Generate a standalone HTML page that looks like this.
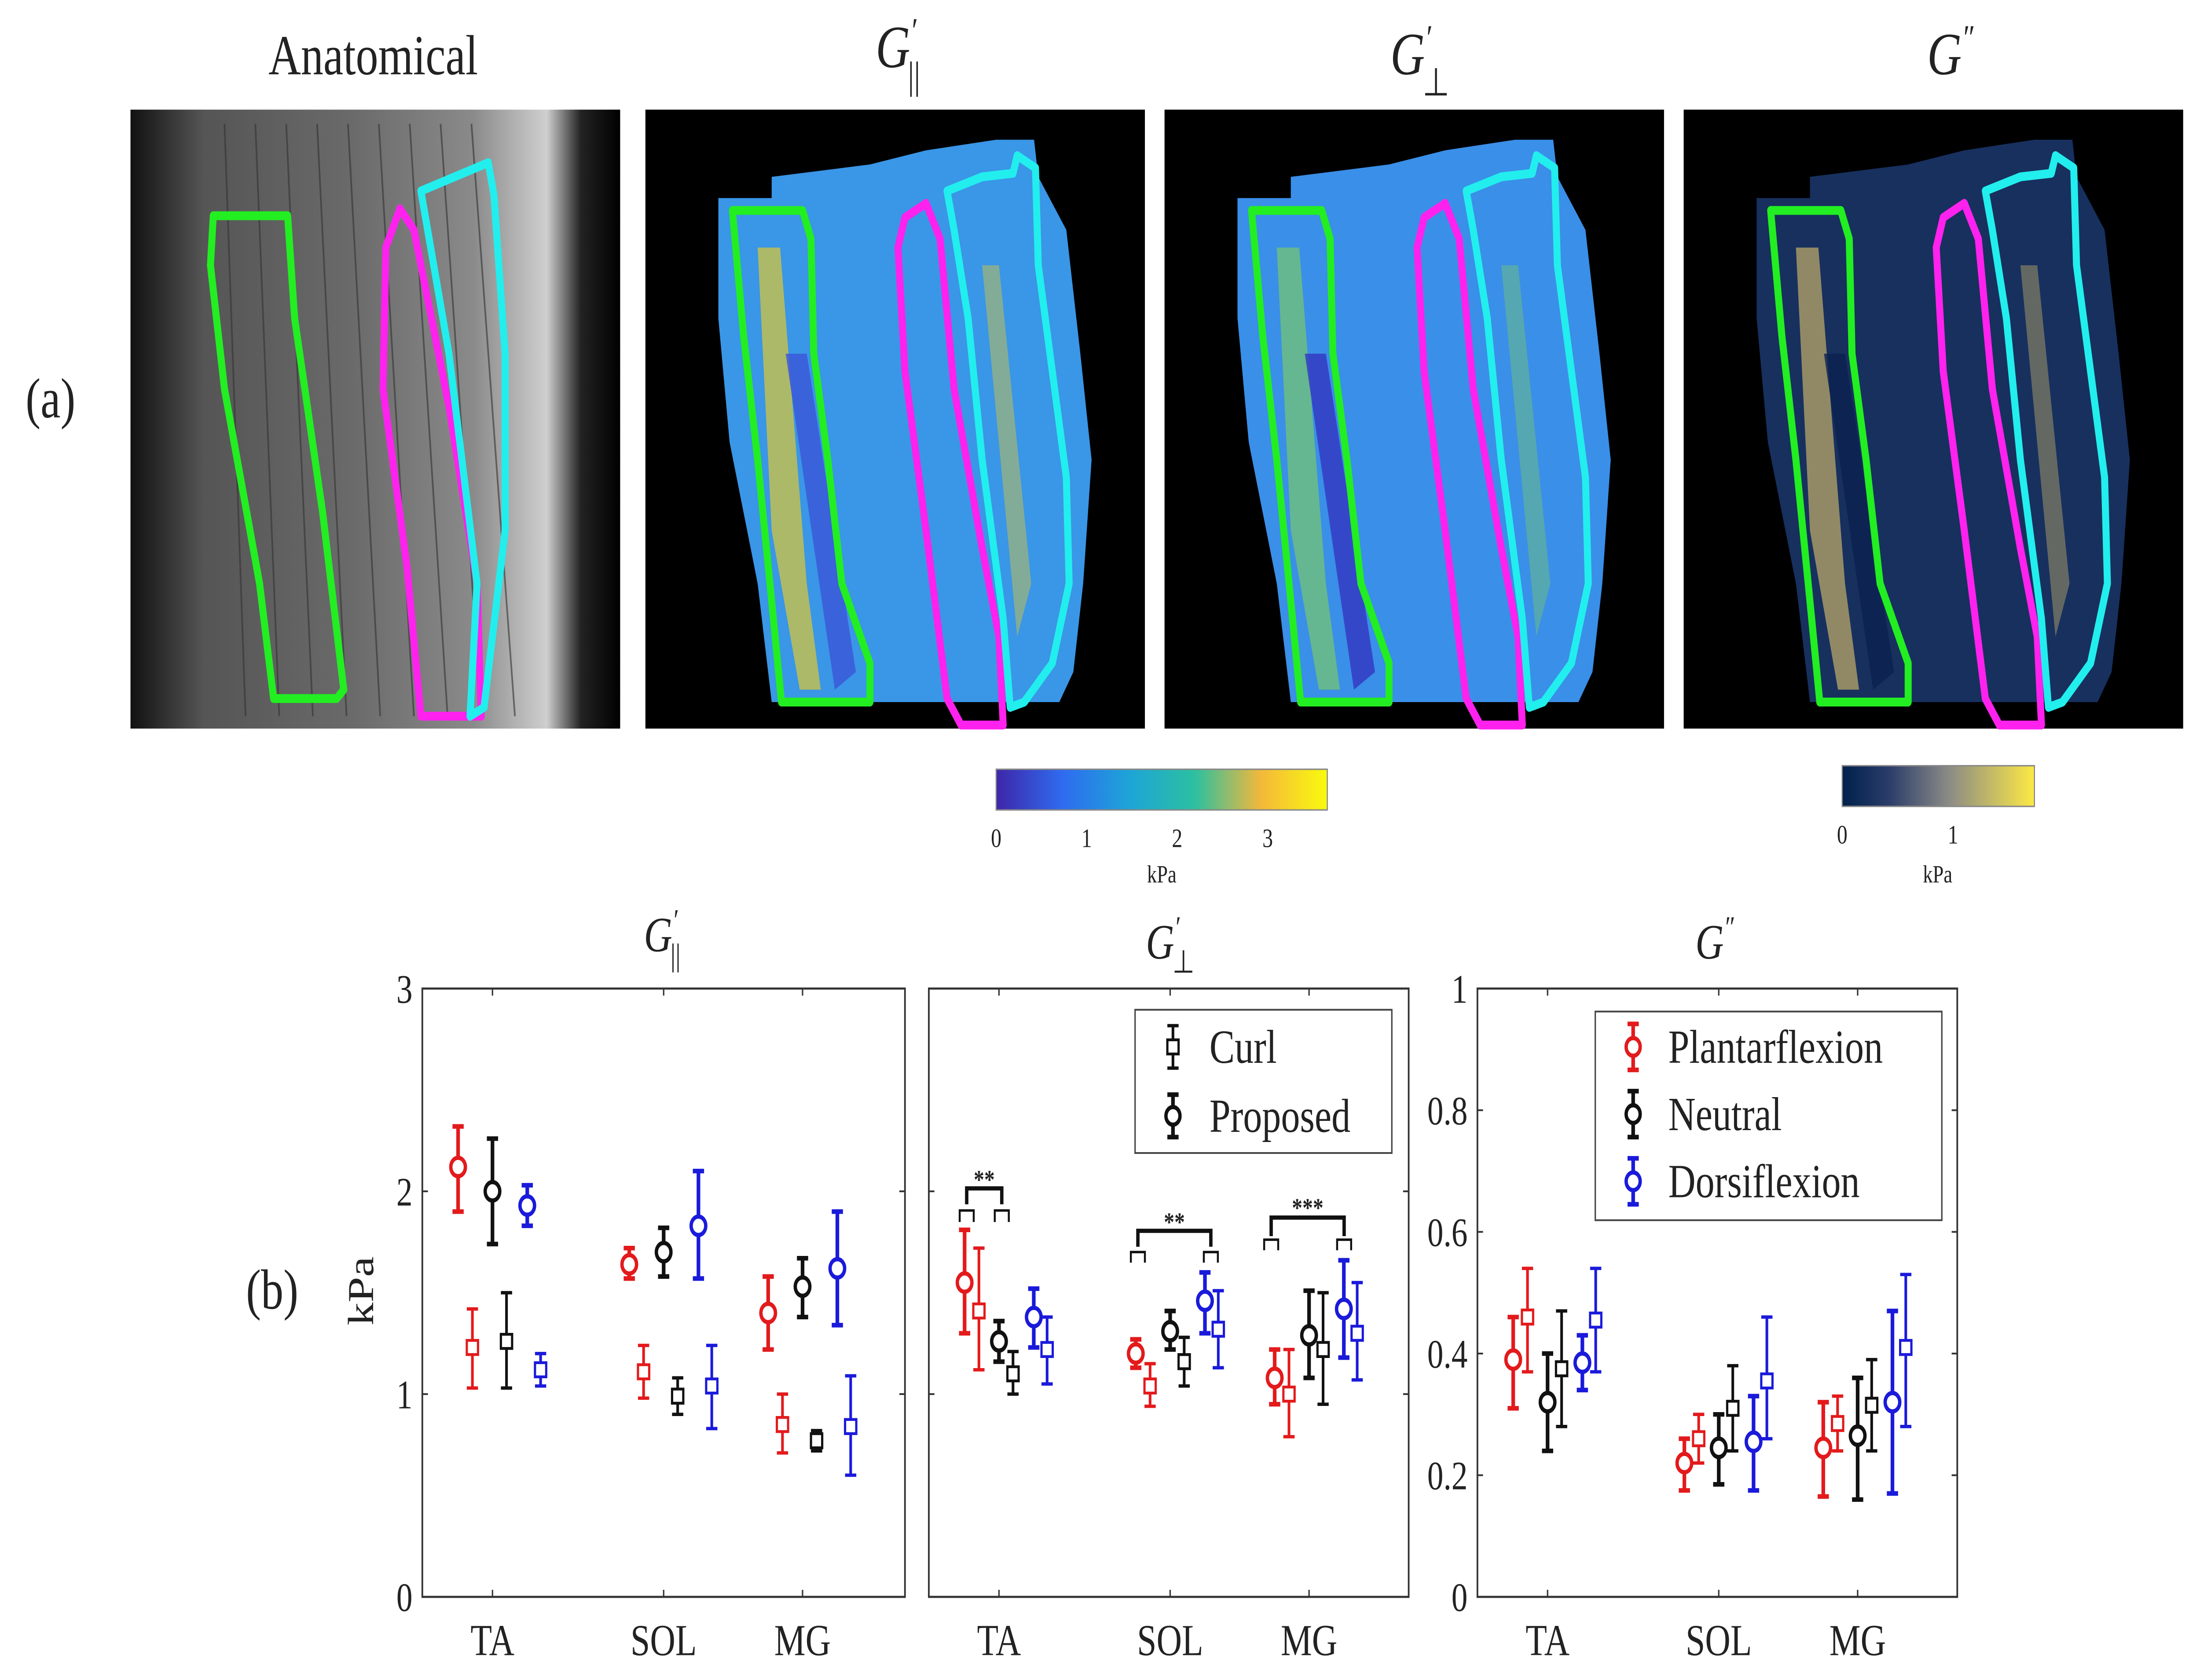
<!DOCTYPE html>
<html><head><meta charset="utf-8"><style>
html,body{margin:0;padding:0;background:#fff;overflow:hidden;width:100%;height:100%;}
svg{display:block;width:100vw;height:100vh;}
text{font-family:"Liberation Serif",serif;fill:#222;}
</style></head><body>
<svg id="fig" xmlns="http://www.w3.org/2000/svg" viewBox="0 0 1568 950" preserveAspectRatio="none">
<defs>
<linearGradient id="anat" x1="0" x2="1" y1="0" y2="0">
<stop offset="0" stop-color="#111"/><stop offset="0.15" stop-color="#555"/><stop offset="0.45" stop-color="#6a6a6a"/><stop offset="0.7" stop-color="#8a8a8a"/><stop offset="0.85" stop-color="#cfcfcf"/><stop offset="0.92" stop-color="#222"/><stop offset="1" stop-color="#000"/>
</linearGradient>
<linearGradient id="parula" x1="0" x2="1"><stop offset="0" stop-color="#3e26a8"/><stop offset="0.2" stop-color="#2f6bf0"/><stop offset="0.4" stop-color="#1da4d8"/><stop offset="0.6" stop-color="#2cc0a0"/><stop offset="0.8" stop-color="#f4b83a"/><stop offset="1" stop-color="#f9fb0e"/></linearGradient>
<linearGradient id="cividis" x1="0" x2="1"><stop offset="0" stop-color="#00204d"/><stop offset="0.25" stop-color="#2c3e6a"/><stop offset="0.55" stop-color="#8a8a86"/><stop offset="1" stop-color="#fde945"/></linearGradient>
</defs>
<g id="topgroup"></g>
<g id="bottom"></g>
</svg>
<script>
// ---------- chart data ----------
const categories = ['TA','SOL','MG'];
const seriesNames = ['Plantarflexion','Neutral','Dorsiflexion'];
const p1CircleVal = [[2.12,1.64,1.40],[2.00,1.70,1.53],[1.93,1.83,1.62]];
const p1CircleLo  = [[1.90,1.57,1.22],[1.74,1.58,1.38],[1.83,1.57,1.34]];
const p1CircleHi  = [[2.32,1.72,1.58],[2.26,1.82,1.67],[2.03,2.10,1.90]];
const p1SquareVal = [[1.23,1.11,0.85],[1.26,0.99,0.77],[1.12,1.04,0.84]];
const p1SquareLo  = [[1.03,0.98,0.71],[1.03,0.90,0.72],[1.04,0.83,0.60]];
const p1SquareHi  = [[1.42,1.24,1.00],[1.50,1.08,0.82],[1.20,1.24,1.09]];
const p2CircleVal = [[1.55,1.20,1.08],[1.26,1.31,1.29],[1.38,1.46,1.42]];
const p2CircleLo  = [[1.30,1.13,0.95],[1.16,1.22,1.08],[1.23,1.30,1.18]];
const p2CircleHi  = [[1.81,1.27,1.22],[1.36,1.41,1.51],[1.52,1.60,1.66]];
const p2SquareVal = [[1.41,1.04,1.00],[1.10,1.16,1.22],[1.22,1.32,1.30]];
const p2SquareLo  = [[1.12,0.94,0.79],[1.00,1.04,0.95],[1.05,1.13,1.07]];
const p2SquareHi  = [[1.72,1.15,1.22],[1.21,1.28,1.50],[1.38,1.51,1.55]];
const p3CircleVal = [[0.39,0.22,0.245],[0.32,0.245,0.265],[0.385,0.255,0.32]];
const p3CircleLo  = [[0.31,0.175,0.165],[0.24,0.185,0.16],[0.34,0.175,0.17]];
const p3CircleHi  = [[0.46,0.26,0.32],[0.40,0.30,0.36],[0.43,0.33,0.47]];
const p3SquareVal = [[0.46,0.26,0.285],[0.375,0.31,0.315],[0.455,0.355,0.41]];
const p3SquareLo  = [[0.37,0.22,0.24],[0.28,0.24,0.24],[0.37,0.26,0.28]];
const p3SquareHi  = [[0.54,0.30,0.33],[0.47,0.38,0.39],[0.54,0.46,0.53]];
const p1Ticks = [0,1,2,3];
const p3Ticks = [0,0.2,0.4,0.6,0.8,1];
const p3TickLabels = ['0','0.2','0.4','0.6','0.8','1'];

const NS='http://www.w3.org/2000/svg';
function mk(tag, attrs, parent, txt){
  const e=document.createElementNS(NS,tag);
  for(const k in attrs) e.setAttribute(k,attrs[k]);
  if(txt!==undefined) e.textContent=txt;
  parent.appendChild(e); return e;
}
const colors=['#e31a1c','#111111','#1a1adb'];

// ---------- top row images ----------
const gTop=document.getElementById('topgroup');
function title(x,y,main,sub,sup){
  const t=mk('text',{x:x,y:y,'font-size':34,'font-style':'italic','text-anchor':'middle'},gTop);
  
  
  mk('tspan',{},t,main);
  if(sup){mk('tspan',{'font-size':20,dy:-14},t,sup);}
  if(sub){mk('tspan',{'font-size':22,dy:sup?26:10,dx:sup?-6:0,'font-style':'normal'},t,sub);}
}
const tA=mk('text',{x:266,y:42,'font-size':32,'text-anchor':'middle'},gTop,'Anatomical');


title(640,38,'G','||','′');
title(1012,42,'G','⊥','′');
title(1390,42,'G','','″');
const lab=mk('text',{x:36,y:236,'font-size':32,'text-anchor':'middle'},gTop,'(a)');



const an=mk('rect',{x:93,y:62,width:349,height:350,fill:'url(#anat)'},gTop);


for(let i=0;i<9;i++){mk('line',{x1:160+i*22,y1:70,x2:175+i*24,y2:405,stroke:'#333','stroke-width':1.2,opacity:0.6},gTop);}
function poly(pts,dx,attrs,name){
  const p=mk('polygon',Object.assign({points:pts.map(q=>(q[0]+dx)+','+q[1]).join(' ')},attrs),gTop);
  
  
  return p;
}
const ol={fill:'none','stroke-width':5,'stroke-linejoin':'round'};
poly([[152,122],[205,122],[210,180],[230,290],[245,390],[240,395],[195,395],[185,330],[160,220],[150,150]],0,Object.assign({stroke:'#22ee22'},ol),'ta-roi');
poly([[285,118],[295,130],[320,230],[340,330],[343,405],[300,405],[290,320],[273,220],[275,140]],0,Object.assign({stroke:'#ff22ee'},ol),'sol-roi');
poly([[300,108],[348,92],[352,110],[360,200],[360,300],[345,400],[335,405],[340,330],[320,200]],0,Object.assign({stroke:'#22eeee'},ol),'mg-roi');

const blob=[[52,112],[90,112],[90,100],[160,93],[200,85],[250,79],[277,79],[280,100],[300,130],[310,200],[318,260],[312,330],[305,380],[295,397],[90,397],[80,330],[60,250],[52,180]];
const green=[[522,119],[572,119],[578,135],[580,200],[590,260],[600,330],[620,375],[620,397],[557,397],[550,340],[540,260],[530,190]];
const mag=[[645,123],[660,115],[670,135],[680,220],[700,310],[712,360],[715,410],[685,410],[675,395],[660,300],[645,210],[640,140]];
const cyan=[[675,108],[700,100],[722,98],[725,88],[738,95],[740,150],[750,210],[760,270],[762,330],[750,375],[730,397],[720,400],[715,350],[700,260],[690,180],[680,130]];
const panels=[{x:460,fill:'#3a96e6',stripe:'#c9c24a',dark:'#3b55d8'},{x:830,fill:'#3a8fe8',stripe:'#6fc07a',dark:'#3434c0'},{x:1200,fill:'#17305e',stripe:'#b0a068',dark:'#0b2250'}];
panels.forEach((pn)=>{
  const r=mk('rect',{x:pn.x,y:62,width:356,height:350,fill:'#000'},gTop);
  
  
  poly(blob,pn.x,{fill:pn.fill},'map-region');
  poly([[540,140],[556,140],[575,330],[585,390],[570,390],[550,300]],pn.x-460,{fill:pn.stripe,opacity:0.8},'map-stripe');
  poly([[560,200],[575,200],[610,380],[595,390]],pn.x-460,{fill:pn.dark,opacity:0.8},'map-stripe');
  poly([[700,150],[712,150],[735,330],[725,360]],pn.x-460,{fill:pn.stripe,opacity:0.5},'map-stripe');
  poly(green,pn.x-460,Object.assign({stroke:'#22ee22'},ol),'ta-roi');
  poly(mag,pn.x-460,Object.assign({stroke:'#ff22ee'},ol),'sol-roi');
  poly(cyan,pn.x-460,Object.assign({stroke:'#22eeee'},ol),'mg-roi');
});
const cb1=mk('rect',{x:710,y:435,width:236,height:23,fill:'url(#parula)',stroke:'#888','stroke-width':0.8},gTop);


['0','1','2','3'].forEach((t,i)=>{mk('text',{x:710+i*64.5,y:479,'font-size':15,'text-anchor':'middle'},gTop,t);});
mk('text',{x:828,y:499,'font-size':14,'text-anchor':'middle'},gTop,'kPa');
const cb2=mk('rect',{x:1313,y:433,width:137,height:23,fill:'url(#cividis)',stroke:'#888','stroke-width':0.8},gTop);


mk('text',{x:1313,y:477,'font-size':15,'text-anchor':'middle'},gTop,'0');
mk('text',{x:1392,y:477,'font-size':15,'text-anchor':'middle'},gTop,'1');
mk('text',{x:1381,y:499,'font-size':14,'text-anchor':'middle'},gTop,'kPa');

// ---------- bottom charts ----------
const bot=document.getElementById('bottom');
const catOff=[50,172,271];
const condOffC=[-24.5,0,24.8];
const condOffS=[-14.3,10,34.3];
function panel(x0,x1,yMax,ticks,tickLabels,cV,cL,cH,sV,sL,sH,name){
  const y0=903,yT=559;
  const Y=v=>y0-(v/yMax)*(y0-yT);
  const g=mk('g',{},bot);
  
  
  mk('rect',{x:x0,y:yT,width:x1-x0,height:y0-yT,fill:'none',stroke:'#333','stroke-width':1.2},g);
  ticks.forEach((t,i)=>{
    const y=Y(t);
    mk('line',{x1:x0,y1:y,x2:x0+4,y2:y,stroke:'#333','stroke-width':1},g);
    mk('line',{x1:x1,y1:y,x2:x1-4,y2:y,stroke:'#333','stroke-width':1},g);
    const lt=mk('text',{x:x0-7,y:y+8,'font-size':23,'text-anchor':'end'},g,tickLabels[i]);
    
    
  });
  categories.forEach((c,j)=>{
    const x=x0+catOff[j];
    mk('line',{x1:x,y1:y0,x2:x,y2:y0-4,stroke:'#333','stroke-width':1},g);
    mk('line',{x1:x,y1:yT,x2:x,y2:yT+4,stroke:'#333','stroke-width':1},g);
    const ct=mk('text',{x:x,y:936,'font-size':25,'text-anchor':'middle'},g,c);
    
    
    for(let k=0;k<3;k++){
      const xc=x+condOffC[k];
      const eb=mk('path',{d:`M${xc},${Y(cL[k][j])}V${Y(cH[k][j])}M${xc-4},${Y(cL[k][j])}h8M${xc-4},${Y(cH[k][j])}h8`,stroke:colors[k],'stroke-width':2.6,fill:'none'},g);
      
      
      const ci=mk('circle',{cx:xc,cy:Y(cV[k][j]),r:5.2,fill:'#fff',stroke:colors[k],'stroke-width':2.4},g);
      
      
      const xs=x+condOffS[k];
      const es=mk('path',{d:`M${xs},${Y(sL[k][j])}V${Y(sH[k][j])}M${xs-4},${Y(sL[k][j])}h8M${xs-4},${Y(sH[k][j])}h8`,stroke:colors[k],'stroke-width':1.9,fill:'none'},g);
      
      
      const sq=mk('rect',{x:xs-4,y:Y(sV[k][j])-4,width:8,height:8,fill:'#fff',stroke:colors[k],'stroke-width':1.6},g);
      
      
    }
  });
  return g;
}
panel(301,645,3,p1Ticks,p1Ticks.map(String),p1CircleVal,p1CircleLo,p1CircleHi,p1SquareVal,p1SquareLo,p1SquareHi,'chart-g-parallel');
panel(662,1004,3,p1Ticks,['','','',''],p2CircleVal,p2CircleLo,p2CircleHi,p2SquareVal,p2SquareLo,p2SquareHi,'chart-g-perp');
panel(1053,1395,1,p3Ticks,p3TickLabels,p3CircleVal,p3CircleLo,p3CircleHi,p3SquareVal,p3SquareLo,p3SquareHi,'chart-g-loss');

function btitle(x,y,sub,sup,name){
  const t=mk('text',{x:x,y:y,'font-size':28,'font-style':'italic','text-anchor':'middle'},bot);
  
  
  mk('tspan',{},t,'G');
  mk('tspan',{'font-size':17,dy:-12},t,sup);
  if(sub) mk('tspan',{'font-size':18,dy:20,dx:-5,'font-style':'normal'},t,sub);
}
btitle(472,538,'||','′','title-g-parallel');
btitle(834,542,'⊥','′','title-g-perp');
btitle(1222,542,'','″','title-g-loss');
const yl=mk('text',{x:266,y:730,'font-size':26,'text-anchor':'middle',transform:'rotate(-90 266 730)'},bot,'kPa');


const bl=mk('text',{x:194,y:740,'font-size':32,'text-anchor':'middle'},bot,'(b)');



function bracket(xa,xb,yMain,yLeg,yHookTop,yHookBot,label,yLab){
  const g=mk('g',{},bot);
  
  
  mk('path',{d:`M${xa},${yLeg}V${yMain}H${xb}V${yLeg}`,stroke:'#111','stroke-width':2.4,fill:'none'},g);
  mk('path',{d:`M${xa-5},${yHookBot}V${yHookTop}H${xa+5}V${yHookBot}M${xb-5},${yHookBot}V${yHookTop}H${xb+5}V${yHookBot}`,stroke:'#111','stroke-width':1.4,fill:'none'},g);
  mk('text',{x:(xa+xb)/2,y:yLab+6,'font-size':15,'font-weight':'bold','text-anchor':'middle'},g,label);
}
bracket(689,714,672,681,684.5,691,'**',666);
bracket(811,863,696,705,708,714,'**',690);
bracket(906,958,688.5,699,701,707,'***',682);

function legendBox(x,y,w,h,name){
  const r=mk('rect',{x:x,y:y,width:w,height:h,fill:'#fff',stroke:'#444','stroke-width':1},bot);
  
  
}
legendBox(809,571,183,81,'legend-method');
[['Curl','sq',592],['Proposed','ci',631]].forEach(([t,m,y])=>{
  const g=mk('g',{},bot);
  
  
  mk('path',{d:`M836,${y-12}V${y+12}M832,${y-12}h8M832,${y+12}h8`,stroke:'#111','stroke-width':m==='ci'?2.6:1.9},g);
  if(m==='ci') mk('circle',{cx:836,cy:y,r:5,fill:'#fff',stroke:'#111','stroke-width':2.4},g);
  else mk('rect',{x:832,y:y-4,width:8,height:8,fill:'#fff',stroke:'#111','stroke-width':1.6},g);
  mk('text',{x:862,y:y+9,'font-size':27},g,t);
});
legendBox(1137,572,247,118,'legend-condition');
seriesNames.forEach((t,i)=>{
  const y=592+i*38;
  const g=mk('g',{},bot);
  
  
  mk('path',{d:`M1164,${y-13}V${y+13}M1160,${y-13}h8M1160,${y+13}h8`,stroke:colors[i],'stroke-width':2.6},g);
  mk('circle',{cx:1164,cy:y,r:5,fill:'#fff',stroke:colors[i],'stroke-width':2.4},g);
  mk('text',{x:1189,y:y+9,'font-size':27},g,t);
});
</script>
</body></html>
